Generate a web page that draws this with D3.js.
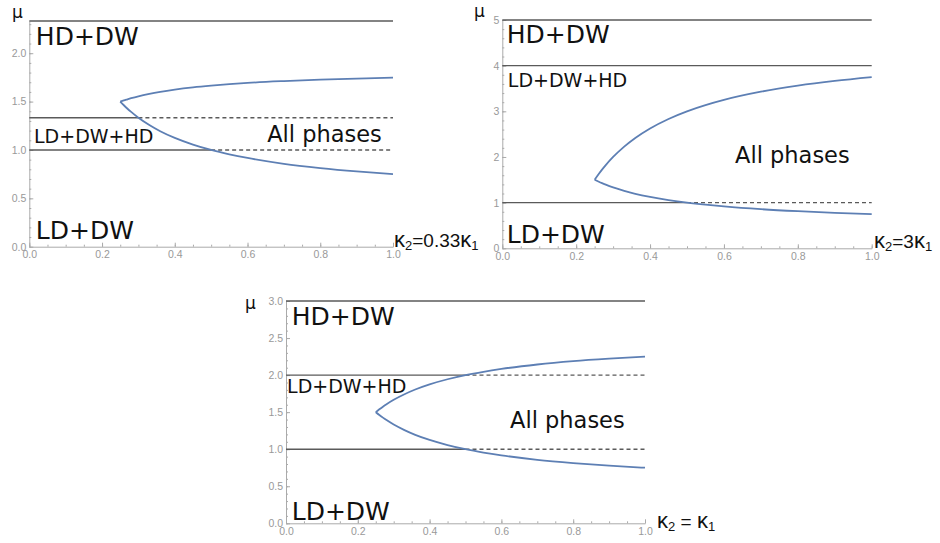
<!DOCTYPE html>
<meta charset="utf-8">
<style>
  body { margin: 0; background: #fff; }
  .tick text { font: 10.5px "Liberation Sans", sans-serif; fill: #999; }
  .region { font-family: "DejaVu Sans", sans-serif; fill: #111; }
</style>
<body>
<svg width="940" height="543"></svg>
<script src="https://cdn.jsdelivr.net/npm/d3@7"></script>
<script>
// curve samples (x = kappa1 axis, mu)
const branchX  = [0.25, 0.26, 0.27, 0.28, 0.30, 0.33, 0.36, 0.40, 0.45, 0.50, 0.55, 0.60, 0.70, 0.80, 0.90, 1.00];
const lowerMu  = [1.500, 1.462, 1.426, 1.393, 1.333, 1.258, 1.194, 1.125, 1.056, 1.000, 0.955, 0.917, 0.857, 0.813, 0.778, 0.750];
const upperMuA = [1.500, 1.513, 1.524, 1.535, 1.555, 1.580, 1.601, 1.624, 1.647, 1.665, 1.680, 1.693, 1.712, 1.727, 1.738, 1.748];
const upperMuB = [1.500, 1.615, 1.722, 1.821, 2.000, 2.227, 2.417, 2.625, 2.833, 3.000, 3.136, 3.250, 3.429, 3.563, 3.667, 3.750];
const upperMuC = [1.500, 1.538, 1.574, 1.607, 1.667, 1.742, 1.806, 1.875, 1.944, 2.000, 2.045, 2.083, 2.143, 2.188, 2.222, 2.250];

// phase boundaries (mu) and where each turns dashed
const boundA = [2.333, 1.333, 1.0], dashA = [1.0, 0.3, 0.5];
const boundB = [5, 4, 1],           dashB = [1.0, 1.0, 0.5];
const boundC = [3, 2, 1],           dashC = [1.0, 0.5, 0.5];

const xTicks  = [0, 0.2, 0.4, 0.6, 0.8, 1.0];
const yTicksA = [0, 0.5, 1.0, 1.5, 2.0];
const yTicksB = [0, 1, 2, 3, 4, 5];
const yTicksC = [0, 0.5, 1.0, 1.5, 2.0, 2.5, 3.0];

const regionNames = ["HD+DW", "LD+DW+HD", "All phases", "LD+DW"];

const svg = d3.select("svg");

const panels = [
  { left: 29.3, right: 393, bottom: 246.7, top: 21, yMax: 2.333, yTicks: yTicksA, yMinor: 0.1, fmt: ".1f",
    upper: upperMuA, bounds: boundA, dash: dashA,
    // label positions in data units [x, mu] and font sizes
    labels: [[0.018, 2.09, 25], [0.013, 1.07, 19], [0.654, 1.08, 22.5], [0.018, 0.08, 25]],
    mu: [12, 18], kappa: { x: 394, y: 247, parts: ["κ", "2", "=0.33", "κ", "1"] } },
  { left: 502.3, right: 871.7, bottom: 248.3, top: 20, yMax: 5, yTicks: yTicksB, yMinor: 0.2, fmt: "d",
    upper: upperMuB, bounds: boundB, dash: dashB,
    labels: [[0.012, 4.49, 25], [0.015, 3.53, 19], [0.63, 1.875, 22.5], [0.012, 0.11, 25]],
    mu: [474, 17], kappa: { x: 874, y: 248, parts: ["κ", "2", "=3", "κ", "1"] } },
  { left: 286, right: 645, bottom: 523.3, top: 301, yMax: 3, yTicks: yTicksC, yMinor: 0.1, fmt: ".1f",
    upper: upperMuC, bounds: boundC, dash: dashC,
    labels: [[0.016, 2.676, 25], [0.003, 1.754, 19], [0.624, 1.282, 22.5], [0.016, 0.045, 25]],
    mu: [245, 309], kappa: { x: 657, y: 528, parts: ["κ", "2", " = ", "κ", "1"] } }
];

panels.forEach(function (p) {
  const x = d3.scaleLinear().domain([0, 1]).range([p.left, p.right]);
  const y = d3.scaleLinear().domain([0, p.yMax]).range([p.bottom, p.top]);
  const g = svg.append("g");

  // minor ticks
  g.append("g").attr("transform", `translate(0,${p.bottom})`)
    .call(d3.axisBottom(x).tickValues(d3.range(0, 1.001, 0.05)).tickSize(-2).tickFormat(""))
    .call(s => s.select(".domain").remove())
    .selectAll("line").attr("stroke", "#aaa");
  g.append("g").attr("transform", `translate(${p.left},0)`)
    .call(d3.axisLeft(y).tickValues(d3.range(0, p.yMax + 0.001, p.yMinor)).tickSize(-2).tickFormat(""))
    .call(s => s.select(".domain").remove())
    .selectAll("line").attr("stroke", "#aaa");

  // major ticks
  const xa = g.append("g").attr("transform", `translate(0,${p.bottom})`)
    .call(d3.axisBottom(x).tickValues(xTicks).tickSizeInner(-4).tickSizeOuter(0)
      .tickPadding(4).tickFormat(d3.format(".1f")));
  const ya = g.append("g").attr("transform", `translate(${p.left},0)`)
    .call(d3.axisLeft(y).tickValues(p.yTicks).tickSizeInner(-4).tickSizeOuter(0)
      .tickPadding(3).tickFormat(d3.format(p.fmt)));
  [xa, ya].forEach(a => {
    a.select(".domain").attr("stroke", "#aaa");
    a.selectAll(".tick line").attr("stroke", "#aaa");
  });

  // boundaries
  p.bounds.forEach(function (m, i) {
    g.append("line").attr("x1", x(0)).attr("x2", x(p.dash[i]))
      .attr("y1", y(m)).attr("y2", y(m))
      .attr("stroke", "#5a5a5a").attr("stroke-width", 1.4);
    if (p.dash[i] < 1) {
      g.append("line").attr("x1", x(p.dash[i])).attr("x2", x(1))
        .attr("y1", y(m)).attr("y2", y(m))
        .attr("stroke", "#5a5a5a").attr("stroke-width", 1.4)
        .attr("stroke-dasharray", "4,3");
    }
  });

  // curve branches
  const line = d3.line().x(d => x(d[0])).y(d => y(d[1])).curve(d3.curveMonotoneX);
  [lowerMu, p.upper].forEach(function (arr) {
    g.append("path").datum(branchX.map((v, i) => [v, arr[i]]))
      .attr("d", line).attr("fill", "none")
      .attr("stroke", "#5d7fb4").attr("stroke-width", 1.8);
  });

  // region labels
  p.labels.forEach(function (l, i) {
    g.append("text").attr("class", "region")
      .attr("x", x(l[0])).attr("y", y(l[1]))
      .style("font-size", l[2] + "px")
      .text(regionNames[i]);
  });

  // axis titles
  g.append("text").attr("x", p.mu[0]).attr("y", p.mu[1])
    .style("font", "17px 'DejaVu Sans', sans-serif").attr("fill", "#111").text("μ");

  const kt = g.append("text").attr("x", p.kappa.x).attr("y", p.kappa.y)
    .style("font-family", "'Liberation Sans', sans-serif").attr("fill", "#111");
  p.kappa.parts.forEach(function (s, i) {
    const t = kt.append("tspan").text(s).attr("xml:space", "preserve");
    if (s === "κ") t.style("font-size", "22px");
    else if (s === "2" || s === "1") t.style("font-size", "13px").attr("dy", 3);
    else t.style("font-size", "19px");
    if (i === 2) t.attr("dy", -3);
  });
});
</script>
</body>
